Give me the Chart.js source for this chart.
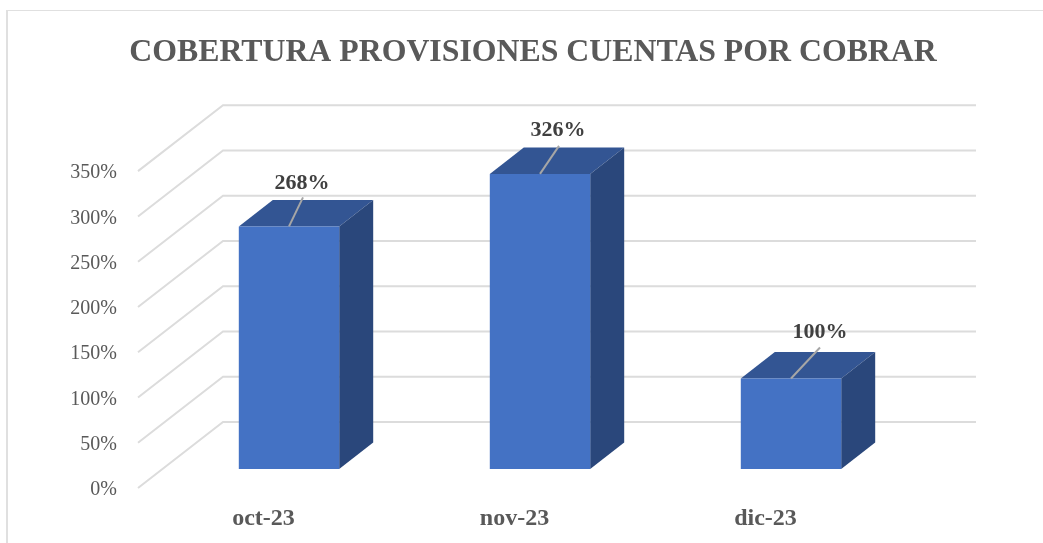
<!DOCTYPE html>
<html>
<head>
<meta charset="utf-8">
<style>
html,body{margin:0;padding:0;width:1043px;height:543px;overflow:hidden;background:#fff}
#frame{position:absolute;left:6px;top:10px;width:1054px;height:540px;border-left:2px solid #e0e0e0;border-top:1.5px solid #e0e0e0;box-sizing:border-box}
#c{position:absolute;left:6px;top:10px}
</style>
<script src="https://cdn.jsdelivr.net/npm/chart.js@4"></script>
</head>
<body>
<div id="frame"></div>
<canvas id="c" width="1054" height="533"></canvas>
<script>
const categories = ['oct-23', 'nov-23', 'dic-23'];
const coverage = [268, 326, 100];
const yTicks = [0, 50, 100, 150, 200, 250, 300, 350];
const titleText = 'COBERTURA PROVISIONES CUENTAS POR COBRAR';
// leader-line ends and label anchors, relative to each bar's top edge centre
const leaderEnds = [[14, -29], [19, -28], [29, -31]];
const labelCentres = [[13, -43], [18, -44], [29, -46]];

const FONT = '"Liberation Serif", "Times New Roman", serif';
const DEPTH_X = 85, DEPTH_Y = 66;      // full depth of the 3D floor
const GAP_X = 0.3, GAP_Y = 0.288;      // how far the bars stand from the front plane
const BAR_DEPTH = 0.4;                 // share of depth along the bar

const box3d = {
  id: 'box3d',
  beforeDatasetsDraw(chart) {
    const {ctx, scales: {x, y}} = chart;
    ctx.save();
    ctx.strokeStyle = '#dcdcdc';
    ctx.lineWidth = 2;
    yTicks.forEach(v => {
      const py = y.getPixelForValue(v);
      ctx.beginPath();
      ctx.moveTo(x.left, py);
      ctx.lineTo(x.left + DEPTH_X, py - DEPTH_Y);
      ctx.lineTo(x.right + DEPTH_X, py - DEPTH_Y);
      ctx.stroke();
    });
    ctx.restore();
  },
  beforeDatasetDraw(chart) {
    const {ctx} = chart;
    const ox = DEPTH_X * GAP_X, oy = DEPTH_Y * GAP_Y;
    const dx = DEPTH_X * BAR_DEPTH, dy = DEPTH_Y * BAR_DEPTH;
    ctx.save();
    ctx.translate(ox, -oy);
    chart.getDatasetMeta(0).data.forEach(bar => {
      const l = bar.x - bar.width / 2, r = bar.x + bar.width / 2;
      const t = bar.y, b = bar.base;
      ctx.fillStyle = '#335593';
      ctx.beginPath();
      ctx.moveTo(l, t); ctx.lineTo(l + dx, t - dy); ctx.lineTo(r + dx, t - dy); ctx.lineTo(r, t);
      ctx.closePath(); ctx.fill();
      ctx.fillStyle = '#2a477b';
      ctx.beginPath();
      ctx.moveTo(r, t); ctx.lineTo(r + dx, t - dy); ctx.lineTo(r + dx, b - dy); ctx.lineTo(r, b);
      ctx.closePath(); ctx.fill();
    });
  },
  afterDatasetDraw(chart) {
    const {ctx} = chart;
    const ds = chart.data.datasets[0];
    chart.getDatasetMeta(0).data.forEach((bar, i) => {
      ctx.strokeStyle = '#a6a6a6';
      ctx.lineWidth = 2;
      ctx.beginPath();
      ctx.moveTo(bar.x, bar.y);
      ctx.lineTo(bar.x + leaderEnds[i][0], bar.y + leaderEnds[i][1]);
      ctx.stroke();
      ctx.fillStyle = '#404040';
      ctx.font = 'bold 22px ' + FONT;
      ctx.textAlign = 'center';
      ctx.textBaseline = 'middle';
      ctx.fillText(ds.data[i] + '%', bar.x + labelCentres[i][0], bar.y + labelCentres[i][1]);
    });
    ctx.restore();
  }
};

new Chart(document.getElementById('c'), {
  type: 'bar',
  data: {
    labels: categories,
    datasets: [{
      data: coverage,
      backgroundColor: '#4472c4',
      borderWidth: 0,
      barPercentage: 1,
      categoryPercentage: BAR_DEPTH
    }]
  },
  plugins: [box3d],
  options: {
    responsive: false,
    animation: false,
    plugins: {
      legend: {display: false},
      tooltip: {enabled: false},
      title: {
        display: true,
        text: titleText,
        color: '#595959',
        font: {family: FONT, size: 31.8, weight: 'bold'},
        padding: {top: 24, bottom: 99}
      }
    },
    scales: {
      x: {
        grid: {display: false, drawTicks: false},
        border: {display: false},
        afterFit(s) { s.height = 55; },
        ticks: {
          color: '#595959',
          font: {family: FONT, size: 24, weight: 'bold'},
          padding: 16.6,
          maxRotation: 0
        }
      },
      y: {
        min: 0,
        max: 350,
        grid: {display: false, drawTicks: false},
        border: {display: false},
        afterFit(s) { s.width = 132; },
        afterBuildTicks(s) { s.ticks = yTicks.map(v => ({value: v})); },
        ticks: {
          color: '#595959',
          font: {family: FONT, size: 20},
          padding: 21,
          labelOffset: 2,
          callback: v => v + '%'
        }
      },
      spacer: {
        position: 'right',
        grid: {display: false, drawTicks: false},
        border: {display: false},
        ticks: {display: false},
        afterFit(s) { s.width = 169; }
      }
    }
  }
});
</script>
</body>
</html>
